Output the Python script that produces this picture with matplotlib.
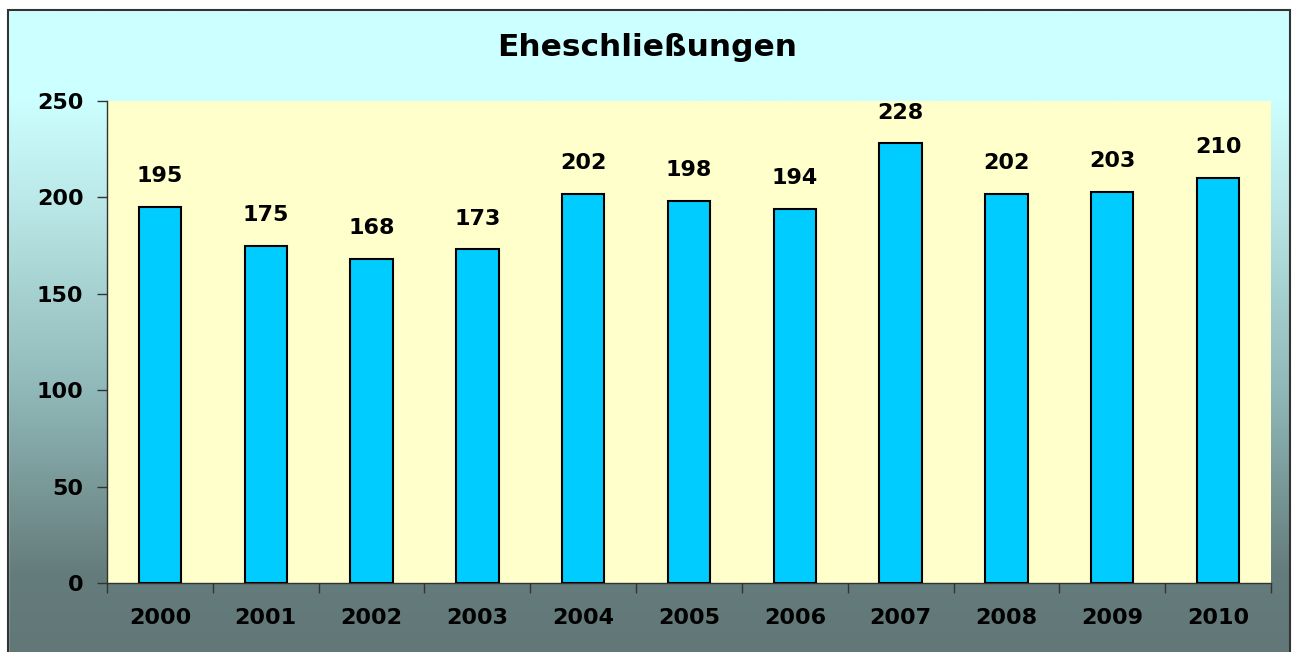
import matplotlib.pyplot as plt
import numpy as np
from matplotlib.colors import LinearSegmentedColormap
from matplotlib.patches import Rectangle

plt.rcParams['font.family'] = ['DejaVu Sans']

years = ['2000', '2001', '2002', '2003', '2004', '2005', '2006', '2007', '2008', '2009', '2010']
marriages = [195, 175, 168, 173, 202, 198, 194, 228, 202, 203, 210]

fig = plt.figure(figsize=(12.95, 6.52), dpi=100)

# background gradient (top light cyan -> bottom grey-green)
bg = fig.add_axes([0, 0, 1, 1], zorder=-10)
cmap = LinearSegmentedColormap.from_list(
    'bg', [(0.0, '#627878'), (0.12, '#657c7c'), (0.4, '#90b8b8'),
           (0.7, '#bce9e9'), (0.85, '#ccffff'), (1.0, '#ccffff')])
grad = np.linspace(0, 1, 256).reshape(-1, 1)
bg.imshow(grad, aspect='auto', cmap=cmap, origin='lower', extent=[0, 1, 0, 1])
bg.set_xlim(0, 1)
bg.set_ylim(0, 1)
bg.axis('off')
# white margin on top/left/right and the dark frame
bg.add_patch(Rectangle((0, 1 - 10 / 652), 1, 10 / 652, color='white', zorder=2))
bg.add_patch(Rectangle((0, 0), 8 / 1295, 1, color='white', zorder=2))
bg.add_patch(Rectangle((1290 / 1295, 0), 5 / 1295, 1, color='white', zorder=2))
bg.add_patch(Rectangle((8 / 1295, -0.01), 1282 / 1295, 1.01 - 10 / 652, fill=False,
                       edgecolor='#333333', linewidth=1.5, zorder=3))

ax = fig.add_axes([107 / 1295, 1 - 583 / 652, 1164 / 1295, 482 / 652])
ax.set_facecolor('#ffffcc')
x = np.arange(len(years))
ax.bar(x, marriages, width=0.4, color='#00ccff', edgecolor='black', linewidth=1.5, zorder=3)

for xi, v in zip(x, marriages):
    ax.annotate(str(v), (xi, v), xytext=(0, 15), textcoords='offset points',
                ha='center', va='bottom', fontsize=16, fontweight='bold')

ax.set_xlim(-0.5, len(years) - 0.5)
ax.set_ylim(0, 250)
ax.set_yticks([0, 50, 100, 150, 200, 250])
ax.set_xticks(x)
ax.set_xticklabels(years)
ax.set_xticks(np.arange(len(years) + 1) - 0.5, minor=True)
ax.tick_params(axis='x', which='major', length=0, pad=18, labelsize=16)
ax.tick_params(axis='x', which='minor', length=7, direction='out', width=1, color='#333333')
ax.tick_params(axis='y', length=7, direction='out', width=1, color='#333333', pad=10, labelsize=16)
for lbl in ax.get_xticklabels() + ax.get_yticklabels():
    lbl.set_fontweight('bold')

for s in ['top', 'right']:
    ax.spines[s].set_visible(False)
for s in ['left', 'bottom']:
    ax.spines[s].set_color('#333333')
    ax.spines[s].set_linewidth(1)

fig.text(0.5, 1 - 47 / 652, 'Eheschließungen', ha='center', va='center',
         fontsize=22.5, fontweight='bold')

fig.savefig('out.png', dpi=100)
